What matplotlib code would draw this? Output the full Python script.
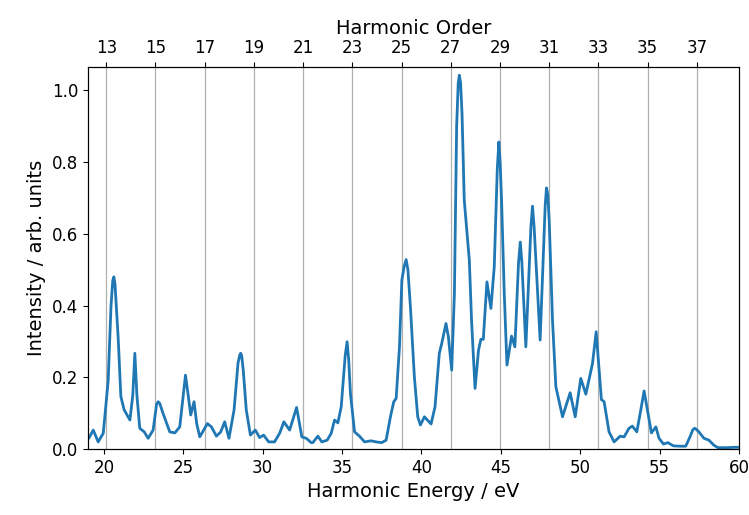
import numpy as np
import matplotlib
matplotlib.use("Agg")
import matplotlib.pyplot as plt

# photon energy of the driving laser (800 nm)
photon_ev = 1.55
orders = [13, 15, 17, 19, 21, 23, 25, 27, 29, 31, 33, 35, 37]

energy = [19.0, 19.06, 19.33, 19.64, 19.96, 20.27, 20.45, 20.56, 20.63, 20.7, 20.9, 21.07,
          21.28, 21.64, 21.82, 21.95, 22.08, 22.26, 22.54, 22.79, 23.1, 23.32, 23.42, 23.52,
          23.73, 24.15, 24.47, 24.78, 25.0, 25.14, 25.28, 25.47, 25.68, 25.85, 26.04, 26.52,
          26.77, 27.09, 27.36, 27.61, 27.88, 28.2, 28.45, 28.56, 28.62, 28.68, 28.78, 28.97,
          29.23, 29.54, 29.81, 30.06, 30.38, 30.75, 31.07, 31.34, 31.7, 32.14, 32.47, 32.75,
          33.06, 33.16, 33.48, 33.73, 34.07, 34.32, 34.53, 34.74, 34.95, 35.2, 35.32, 35.42,
          35.53, 35.79, 36.1, 36.42, 36.84, 37.15, 37.5, 37.78, 38.05, 38.26, 38.41, 38.62,
          38.77, 38.92, 39.04, 39.15, 39.31, 39.56, 39.77, 39.94, 40.19, 40.61, 40.86, 41.13,
          41.28, 41.55, 41.7, 41.91, 42.08, 42.22, 42.32, 42.39, 42.47, 42.56, 42.7, 43.02,
          43.16, 43.38, 43.6, 43.75, 43.9, 44.13, 44.38, 44.59, 44.78, 44.88, 44.96, 45.05,
          45.22, 45.39, 45.68, 45.89, 46.12, 46.23, 46.33, 46.58, 46.9, 47.0, 47.1, 47.48,
          47.8, 47.88, 47.96, 48.05, 48.26, 48.47, 48.89, 49.37, 49.69, 50.04, 50.36, 50.78,
          51.01, 51.34, 51.51, 51.82, 52.14, 52.52, 52.77, 53.08, 53.29, 53.57, 53.82, 54.03,
          54.24, 54.49, 54.77, 54.97, 55.25, 55.53, 55.87, 56.33, 56.65, 56.92, 57.1, 57.21,
          57.32, 57.48, 57.8, 58.11, 58.42, 58.68, 59.26, 59.79, 60.0]

intensity = [0.028, 0.031, 0.053, 0.02, 0.044, 0.19, 0.40, 0.47, 0.48, 0.46, 0.31, 0.146,
             0.109, 0.081, 0.15, 0.267, 0.15, 0.058, 0.048, 0.03, 0.053, 0.125, 0.132, 0.127,
             0.099, 0.048, 0.045, 0.062, 0.15, 0.206, 0.16, 0.095, 0.132, 0.07, 0.034, 0.071,
             0.062, 0.036, 0.048, 0.076, 0.03, 0.109, 0.24, 0.262, 0.267, 0.26, 0.22, 0.109,
             0.039, 0.053, 0.032, 0.039, 0.02, 0.02, 0.044, 0.076, 0.053, 0.116, 0.034, 0.03,
             0.018, 0.018, 0.036, 0.02, 0.025, 0.044, 0.081, 0.073, 0.118, 0.26, 0.299, 0.25,
             0.155, 0.048, 0.036, 0.02, 0.023, 0.02, 0.018, 0.025, 0.09, 0.132, 0.141, 0.285,
             0.471, 0.51, 0.528, 0.50, 0.396, 0.2, 0.09, 0.067, 0.09, 0.07, 0.118, 0.267,
             0.294, 0.35, 0.313, 0.22, 0.434, 0.898, 1.02, 1.042, 1.02, 0.935, 0.694, 0.526,
             0.359, 0.169, 0.276, 0.306, 0.306, 0.466, 0.392, 0.508, 0.78, 0.856, 0.80, 0.694,
             0.434, 0.234, 0.315, 0.285, 0.52, 0.577, 0.52, 0.285, 0.62, 0.677, 0.62, 0.304,
             0.68, 0.728, 0.71, 0.638, 0.359, 0.174, 0.09, 0.157, 0.09, 0.197, 0.153, 0.239,
             0.327, 0.138, 0.132, 0.048, 0.02, 0.036, 0.034, 0.058, 0.064, 0.048, 0.109, 0.162,
             0.109, 0.045, 0.062, 0.03, 0.014, 0.018, 0.009, 0.008, 0.008, 0.034, 0.054, 0.058,
             0.055, 0.048, 0.03, 0.025, 0.011, 0.004, 0.004, 0.005, 0.005]

fig = plt.figure(figsize=(7.49, 5.15), dpi=100)
ax = fig.add_axes([0.1175, 0.128, 0.869, 0.742])

harm_ev = [n * photon_ev for n in orders]
for e in harm_ev:
    ax.axvline(e, color="#b0b0b0", lw=0.9, zorder=0)

ax.plot(energy, intensity, color="#1f77b4", lw=2.0, solid_joinstyle="round")
ax.set_xlim(19, 60)
ax.set_ylim(0, 1.065)
ax.set_xticks([20, 25, 30, 35, 40, 45, 50, 55, 60])
ax.set_yticks([0.0, 0.2, 0.4, 0.6, 0.8, 1.0])
ax.tick_params(labelsize=12)
ax.set_xlabel("Harmonic Energy / eV", fontsize=14)
ax.set_ylabel("Intensity / arb. units", fontsize=14)

ax2 = ax.twiny()
ax2.set_xlim(ax.get_xlim())
ax2.set_xticks(harm_ev)
ax2.set_xticklabels([str(n) for n in orders])
ax2.tick_params(labelsize=12)
ax2.set_xlabel("Harmonic Order", fontsize=14)

fig.savefig("out.png", dpi=100)
